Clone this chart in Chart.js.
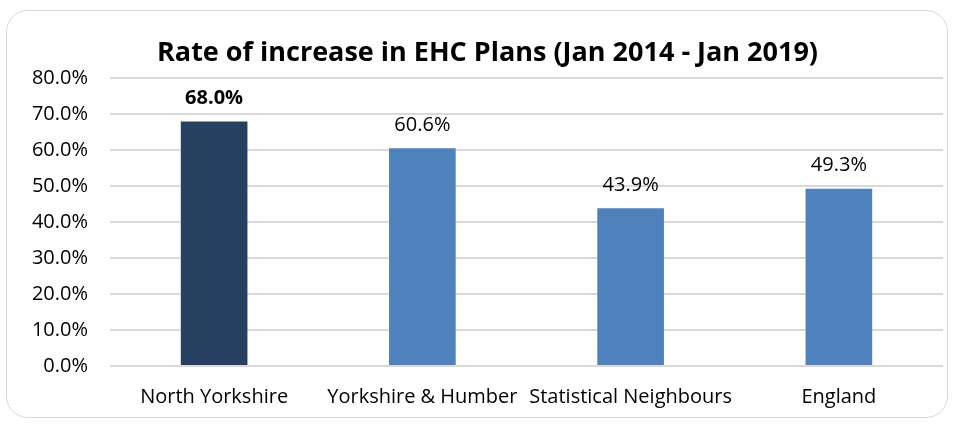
<!DOCTYPE html>
<html>
<head>
<meta charset="utf-8">
<script src="https://cdn.jsdelivr.net/npm/chart.js@4.4.1/dist/chart.umd.min.js"></script>
<style>
  html, body { margin: 0; padding: 0; background: #fff; }
  #wrap { position: relative; width: 955px; height: 427px; }
  #frame {
    position: absolute; left: 6px; top: 10px; width: 942px; height: 408px;
    border: 1.5px solid #d9d9d9; border-radius: 22px; box-sizing: border-box;
  }
  canvas { position: absolute; left: 0; top: 0; }
</style>
</head>
<body>
<div id="wrap">
  <div id="frame"></div>
  <canvas id="ehcBarras" width="955" height="427"></canvas>
</div>
<script>
// dados
const categorias = ['North Yorkshire', 'Yorkshire & Humber', 'Statistical Neighbours', 'England'];
const taxas = [68.0, 60.6, 43.9, 49.3];
const cores = ['#264061', '#4F81BD', '#4F81BD', '#4F81BD'];
const rotulosEmNegrito = [true, false, false, false];

Chart.defaults.font.family = "'Open Sans', 'Noto Sans', sans-serif";
Chart.defaults.color = '#000';

// rotulos em cima das barras
const rotulosPlugin = {
  id: 'rotulos',
  afterDatasetsDraw(chart) {
    const ctx = chart.ctx;
    const meta = chart.getDatasetMeta(0);
    ctx.save();
    ctx.textAlign = 'center';
    ctx.textBaseline = 'middle';
    ctx.fillStyle = '#000';
    meta.data.forEach((bar, i) => {
      ctx.font = (rotulosEmNegrito[i] ? 'bold ' : '') + "20px 'Open Sans', sans-serif";
      ctx.fillText(taxas[i].toFixed(1) + '%', bar.x, bar.y - 23);
    });
    ctx.restore();
  }
};

const ehcCanvas = document.getElementById('ehcBarras');
new Chart(ehcCanvas, {
  type: 'bar',
  data: {
    labels: categorias,
    datasets: [{
      label: 'Rate of increase',
      data: taxas,
      backgroundColor: cores,
      barPercentage: 0.64,
      categoryPercentage: 0.5
    }]
  },
  options: {
    responsive: false,
    animation: false,
    layout: { padding: { top: 37, right: 12, bottom: 18, left: 32 } },
    plugins: {
      legend: { display: false },
      tooltip: { enabled: false },
      title: {
        display: true,
        text: 'Rate of increase in EHC Plans (Jan 2014 - Jan 2019)',
        font: { size: 27, weight: 'bold' },
        color: '#000',
        padding: { top: 0, bottom: 9 }
      }
    },
    scales: {
      y: {
        min: 0,
        max: 80,
        ticks: {
          stepSize: 10,
          padding: 22,
          font: { size: 20 },
          callback: v => v.toFixed(1) + '%'
        },
        grid: { color: '#d9d9d9', lineWidth: 2, drawTicks: false },
        border: { display: false },
        afterFit(scale) { scale.width = 78; }
      },
      x: {
        ticks: {
          padding: 19,
          autoSkip: false,
          maxRotation: 0,
          font: { size: 20 }
        },
        grid: { display: false, drawTicks: false },
        border: { display: false },
        afterFit(scale) { scale.height = 43; }
      }
    }
  },
  plugins: [rotulosPlugin]
});
</script>
</body>
</html>
